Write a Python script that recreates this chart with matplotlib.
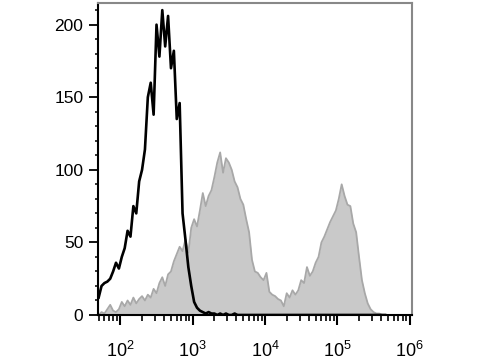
import numpy as np
import matplotlib
matplotlib.use("Agg")
import matplotlib.pyplot as plt
from matplotlib.ticker import LogLocator, MultipleLocator, NullFormatter

plt.rcParams['font.family'] = ['Liberation Sans', 'DejaVu Sans']
plt.rcParams['mathtext.fontset'] = 'custom'
plt.rcParams['mathtext.rm'] = 'Liberation Sans'

# histogram channels, log10 of fluorescence (0.04 decade bins)
log_channels = np.arange(1.70, 5.69, 0.04)

# unstained control (black outline)
control_counts = [
    12, 20, 22, 23, 25, 30, 36, 32, 40, 46,
    58, 54, 75, 70, 92, 100, 114, 150, 160, 138,
    200, 178, 210, 185, 206, 170, 182, 135, 146, 70,
    52, 33, 20, 9, 5, 3, 2, 1, 2, 1,
    1, 0, 1, 0, 1, 0, 0, 1, 0, 0,
    0, 0, 0, 0, 0, 0, 0, 0, 0, 0,
    0, 0, 0, 0, 0, 0, 0, 0, 0, 0,
    0, 0, 0, 0, 0, 0, 0, 0, 0, 0,
    0, 0, 0, 0, 0, 0, 0, 0, 0, 0,
    0, 0, 0, 0, 0, 0, 0, 0, 0, 0,
]

# stained sample (grey filled)
stained_counts = [
    0, 2, 1, 4, 7, 3, 2, 4, 9, 6,
    10, 7, 12, 8, 11, 13, 10, 14, 12, 18,
    15, 22, 26, 20, 28, 30, 37, 42, 47, 44,
    52, 43, 60, 66, 61, 72, 84, 75, 82, 86,
    95, 105, 112, 98, 108, 105, 100, 92, 88, 80,
    76, 66, 57, 38, 30, 29, 26, 24, 29, 16,
    14, 13, 11, 10, 6, 15, 12, 17, 14, 17,
    24, 22, 33, 27, 30, 36, 40, 50, 54, 59,
    64, 68, 72, 80, 90, 82, 76, 75, 63, 57,
    40, 24, 15, 8, 4, 2, 1, 1, 0, 0,
]

x = 10 ** log_channels[:len(stained_counts)]

fig = plt.figure(figsize=(4.8, 3.6), dpi=100)
ax = fig.add_axes([0.204, 0.125, 0.654, 0.867])

ax.fill_between(x, stained_counts, color='#c9c9c9', lw=0)
ax.plot(x, stained_counts, color='#a8a8a8', lw=1.3)
ax.plot(x, control_counts, color='black', lw=1.9)

ax.set_xscale('log')
ax.set_xlim(10 ** 1.69, 10 ** 6.03)
ax.set_ylim(0, 215)

ax.xaxis.set_major_locator(LogLocator(base=10, numticks=10))
ax.xaxis.set_minor_locator(LogLocator(base=10, subs=np.arange(2, 10), numticks=20))
ax.xaxis.set_minor_formatter(NullFormatter())
ax.yaxis.set_major_locator(MultipleLocator(50))
ax.yaxis.set_minor_locator(MultipleLocator(10))

ax.tick_params(axis='x', which='major', length=7, width=1.5, pad=12, labelsize=13)
ax.tick_params(axis='x', which='minor', length=4, width=1.2)
ax.tick_params(axis='y', which='major', length=6.5, width=1.3, pad=4, labelsize=12.5)
ax.tick_params(axis='y', which='minor', length=2.5, width=1.1)

for side in ['left', 'bottom']:
    ax.spines[side].set_color('black')
    ax.spines[side].set_linewidth(1.5)
for side in ['top', 'right']:
    ax.spines[side].set_color('#888888')
    ax.spines[side].set_linewidth(1.5)

fig.savefig('out.png', dpi=100)
